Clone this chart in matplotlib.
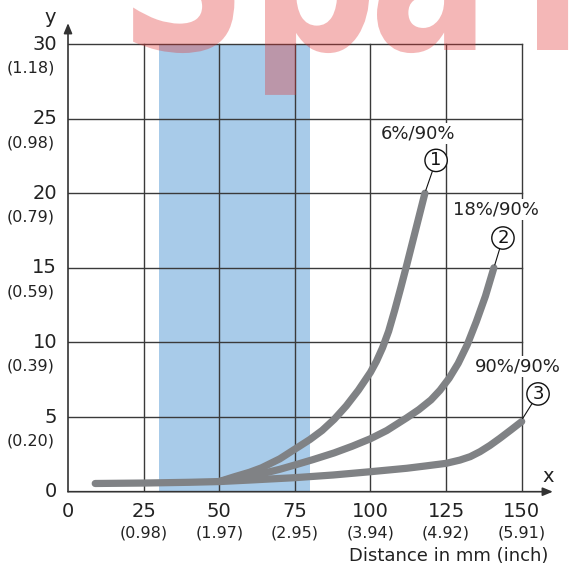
import matplotlib
matplotlib.use("Agg")
import matplotlib.pyplot as plt
from matplotlib.font_manager import FontProperties
from matplotlib.patches import PathPatch
from matplotlib.textpath import TextPath
from matplotlib.transforms import Affine2D

# ── data ────────────────────────────────────────────────────────────────
x_ticks = [25, 50, 75, 100, 125, 150]
x_inch = ["(0.98)", "(1.97)", "(2.95)", "(3.94)", "(4.92)", "(5.91)"]
y_ticks = [5, 10, 15, 20, 25, 30]
y_inch = ["(0.20)", "(0.39)", "(0.59)", "(0.79)", "(0.98)", "(1.18)"]

band = (30, 80)  # shaded range, mm

# curve 1: 6%/90%
x1 = [9, 25, 40, 50, 55, 60, 64, 70, 75, 80, 84, 88, 92, 96, 100, 102, 104,
      106, 108, 110, 112, 114, 116, 118]
y1 = [0.55, 0.58, 0.63, 0.68, 1.0, 1.3, 1.6, 2.2, 2.85, 3.5, 4.1, 4.85, 5.75,
      6.8, 8.0, 8.75, 9.65, 10.75, 12.15, 13.65, 15.2, 16.8, 18.4, 20]
# curve 2: 18%/90%
x2 = [50, 55, 60, 64, 70, 75, 81, 88, 94, 100, 105.4, 112, 116, 120, 123, 126,
      129, 132, 135, 138, 140.8]
y2 = [0.68, 0.9, 1.05, 1.2, 1.5, 1.79, 2.15, 2.6, 3.05, 3.55, 4.1, 4.95, 5.5,
      6.15, 6.8, 7.6, 8.6, 9.85, 11.4, 13.1, 15]
# curve 3: 90%/90%
x3 = [50, 60, 75, 87.7, 100, 112, 118, 125, 129.6, 133, 136.2, 139.5, 142.8,
      146.5, 150]
y3 = [0.68, 0.78, 0.94, 1.12, 1.34, 1.57, 1.72, 1.9, 2.12, 2.35, 2.68, 3.1,
      3.58, 4.15, 4.7]

curve_labels = ["6%/90%", "18%/90%", "90%/90%"]
label_pos = [(115.7, 24.0), (141.5, 18.9), (148.8, 8.4)]
circle_pos = [(121.7, 22.2), (143.8, 17.0), (155.4, 6.55)]

GRID = "#3a3a3a"
CURVE = "#808285"
BLUE = "#a8cbe9"
TEXT = "#222222"

fig = plt.figure(figsize=(5.79, 5.65), dpi=100)
ax = fig.add_axes([68 / 579, 73.3 / 565, 490 / 579, 485 / 565])
ax.set_xlim(0, 162)
ax.set_ylim(0, 32.5)
ax.axis("off")

# shaded band
ax.axvspan(band[0], band[1], ymin=0, ymax=30 / 32.5, color=BLUE, lw=0, zorder=1)

# grid box
for v in x_ticks:
    ax.plot([v, v], [0, 30], color=GRID, lw=1.0, zorder=2)
for v in y_ticks:
    ax.plot([0, 150], [v, v], color=GRID, lw=1.0, zorder=2)

# axes with arrows
arrow = dict(arrowstyle="-|>,head_length=0.6,head_width=0.25", lw=1.2,
             color="#333333", shrinkA=0, shrinkB=0)
ax.annotate("", xy=(160.3, 0), xytext=(0, 0), arrowprops=arrow, zorder=3)
ax.annotate("", xy=(0, 31.4), xytext=(0, 0), arrowprops=arrow, zorder=3)
ax.text(158.7, 1.0, "x", fontsize=14, ha="center", va="center", color=TEXT)
ax.text(-6, 31.75, "y", fontsize=14, ha="center", va="center", color=TEXT)

# curves
for xs, ys in [(x3, y3), (x2, y2), (x1, y1)]:
    ax.plot(xs, ys, color=CURVE, lw=5.2, solid_capstyle="round",
            solid_joinstyle="round", zorder=4)

# curve labels and numbered circles
ends = [(x1[-1], y1[-1]), (x2[-1], y2[-1]), (x3[-1], y3[-1])]
for i, (lab, lp, cp, end) in enumerate(zip(curve_labels, label_pos, circle_pos, ends)):
    ax.text(lp[0], lp[1], lab, fontsize=13, ha="center", va="center",
            color=TEXT, zorder=5, clip_on=False,
            bbox=dict(facecolor="white", edgecolor="none", pad=1))
    ax.annotate(str(i + 1), xy=(end[0] + 0.3, end[1] + 0.2), xytext=cp,
                fontsize=13, ha="center", va="center", color="#111111",
                zorder=6, annotation_clip=False,
                bbox=dict(boxstyle="circle,pad=0.12", facecolor="white",
                          edgecolor="#111111", lw=1.0),
                arrowprops=dict(arrowstyle="-", lw=0.8, color="#111111",
                                shrinkA=0, shrinkB=0))

# tick labels: mm on top, inch below
ax.annotate("0", xy=(0, 0), xytext=(0, -13.9), textcoords="offset points",
            fontsize=14, ha="center", va="center", color=TEXT)
ax.annotate("0", xy=(0, 0), xytext=(-7.9, 0), textcoords="offset points",
            fontsize=14, ha="right", va="center", color=TEXT)
for v, s in zip(x_ticks, x_inch):
    ax.annotate(str(v), xy=(v, 0), xytext=(0, -13.9), textcoords="offset points",
                fontsize=14, ha="center", va="center", color=TEXT)
    ax.annotate(s, xy=(v, 0), xytext=(0, -29.7), textcoords="offset points",
                fontsize=11.5, ha="center", va="center", color=TEXT)
for v, s in zip(y_ticks, y_inch):
    ax.annotate(str(v), xy=(0, v), xytext=(-7.9, 0), textcoords="offset points",
                fontsize=14, ha="right", va="center", color=TEXT)
    ax.annotate(s, xy=(0, v), xytext=(-9.4, -17.3), textcoords="offset points",
                fontsize=11.5, ha="right", va="center", color=TEXT)

ax.annotate("Distance in mm (inch)", xy=(150, 0), xytext=(19, -46),
            textcoords="offset points", fontsize=13, ha="right", va="center",
            color=TEXT)

# watermark, cut off by the top edge; letters drawn as paths so they can be
# squeezed horizontally like the original
wm_font = FontProperties(family="DejaVu Sans", weight="bold")
baseline = 565 - 50
for ch, left in [("S", 132), ("p", 265), ("a", 377), ("r", 537)]:
    path = TextPath((0, 0), ch, size=1, prop=wm_font)
    x0 = path.get_extents().x0
    tr = Affine2D().translate(-x0, 0).scale(178, 216).translate(left, baseline)
    fig.add_artist(PathPatch(path, transform=tr, facecolor=(0.88, 0.2, 0.2),
                             edgecolor="none", alpha=0.35, zorder=10))

fig.savefig("out.png", dpi=100)
